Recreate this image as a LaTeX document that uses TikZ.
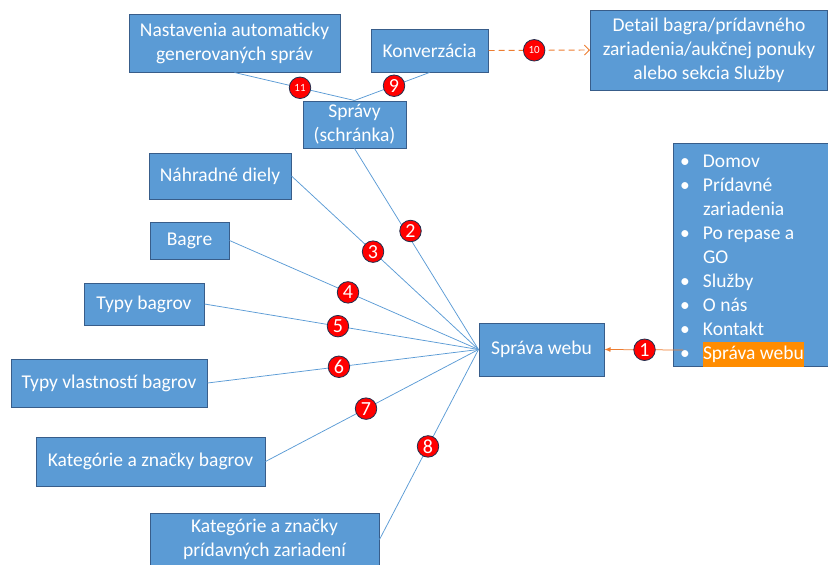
\documentclass[tikz,border=0pt]{standalone}
\usepackage{fontspec}
\setmainfont{Carlito}
\usetikzlibrary{arrows.meta}

\definecolor{boxfill}{HTML}{5B9BD5}
\definecolor{boxline}{HTML}{385D8A}
\definecolor{linkblue}{HTML}{5B9BD5}
\definecolor{navorange}{HTML}{ED7D31}
\definecolor{hl}{HTML}{FF8C00}
\definecolor{badgered}{HTML}{FF0000}
\definecolor{badgeline}{HTML}{1F2F4F}

\tikzset{
  box/.style={draw=boxline, line width=1pt, fill=boxfill, text=white,
    align=center, inner sep=0pt,
    font=\fontsize{19.5}{24}\selectfont},
  link/.style={draw=linkblue, line width=0.75pt},
  badge/.style={circle, draw=badgeline, line width=0.8pt, fill=badgered,
    text=white, minimum size=21.5pt, inner sep=0pt,
    font=\fontsize{20}{20}\selectfont},
  smallbadge/.style={badge, font=\fontsize{11}{11}\selectfont},
  navarrow/.style={draw=navorange, line width=0.75pt,
    -{Latex[length=6pt,width=5pt]}},
  dasharrow/.style={draw=navorange, line width=0.9pt, dash pattern=on 6pt off 4pt,
    -{Straight Barb[length=5pt,width=10pt]}}
}

\begin{document}
\begin{tikzpicture}[x=1pt,y=-1pt]
\useasboundingbox (0,0) rectangle (828,565);

% message section
\node[box, minimum width=211pt, minimum height=58pt] (nast) at (234.5,43)
  {Nastavenia automaticky\\generovaných správ};
\node[box, minimum width=117pt, minimum height=43pt] (konv) at (429.5,50.5)
  {Konverzácia};
\node[box, minimum width=103pt, minimum height=47pt] (spravy) at (354.5,124.5)
  {Správy\\(schránka)};
\node[box, minimum width=237pt, minimum height=80pt] (detail) at (709,50)
  {Detail bagra/prídavného\\zariadenia/aukčnej ponuky\\alebo sekcia Služby};

% administration sections
\node[box, minimum width=142pt, minimum height=46pt] (nahr) at (220,176) {Náhradné diely};
\node[box, minimum width=79pt, minimum height=37pt] (bagre) at (189.5,240.5) {Bagre};
\node[box, minimum width=120pt, minimum height=42pt] (typy) at (144,304) {Typy bagrov};
\node[box, minimum width=196pt, minimum height=48pt] (vlast) at (109,383) {Typy vlastností bagrov};
\node[box, minimum width=229pt, minimum height=49pt] (katb) at (150.5,461.5) {Kategórie a značky bagrov};
\node[box, minimum width=229pt, minimum height=53pt] (katp) at (264.5,539.5)
  {Kategórie a značky\\prídavných zariadení};

\node[box, minimum width=125pt, minimum height=53pt] (web) at (541.5,349.5) {Správa webu};

% main menu
\node[box, minimum width=155pt, minimum height=220pt, align=flush left,
      text width=141pt, inner xsep=7pt] (menu) at (750.5,255)
  {\rule{0pt}{23.8pt}\makebox[23pt][l]{•}Domov\\
   \makebox[23pt][l]{•}Prídavné\\
   \hspace*{23pt}zariadenia\\
   \makebox[23pt][l]{•}Po repase a\\
   \hspace*{23pt}GO\\
   \makebox[23pt][l]{•}Služby\\
   \makebox[23pt][l]{•}O nás\\
   \makebox[23pt][l]{•}Kontakt\\
   \makebox[23pt][l]{•}\smash{\setlength{\fboxsep}{0.5pt}\hspace*{-0.5pt}\colorbox{hl}{\strut Správa webu}}\strut};
\coordinate (bul) at (683,350);

% connectors
\draw[link] (nast.south) -- node[smallbadge, pos=0.546] {11} (spravy.north);
\draw[link] (konv.south) -- node[badge, pos=0.473] {9} (spravy.north);
\draw[dasharrow] (konv.east) -- node[smallbadge, pos=0.45, solid] {10} (detail.west);

\draw[link] (spravy.south) -- (web.west);
\node[badge] (b2) at (410.5,231) {2};
\draw[link] (nahr.east)  -- node[badge, pos=0.436] {3} (web.west);
\draw[link] (bagre.east) -- node[badge, pos=0.476] {4} (web.west);
\draw[link] (typy.east)  -- node[badge, pos=0.487] {5} (web.west);
\draw[link] (vlast.east) -- node[badge, pos=0.485] {6} (web.west);
\draw[link] (katb.east)  -- node[badge, pos=0.472] {7} (web.west);
\draw[link] (katp.east)  -- node[badge, pos=0.49] {8} (web.west);

\draw[navarrow] (bul) -- node[badge, pos=0.49] {1} (web.east);
\end{tikzpicture}
\end{document}
